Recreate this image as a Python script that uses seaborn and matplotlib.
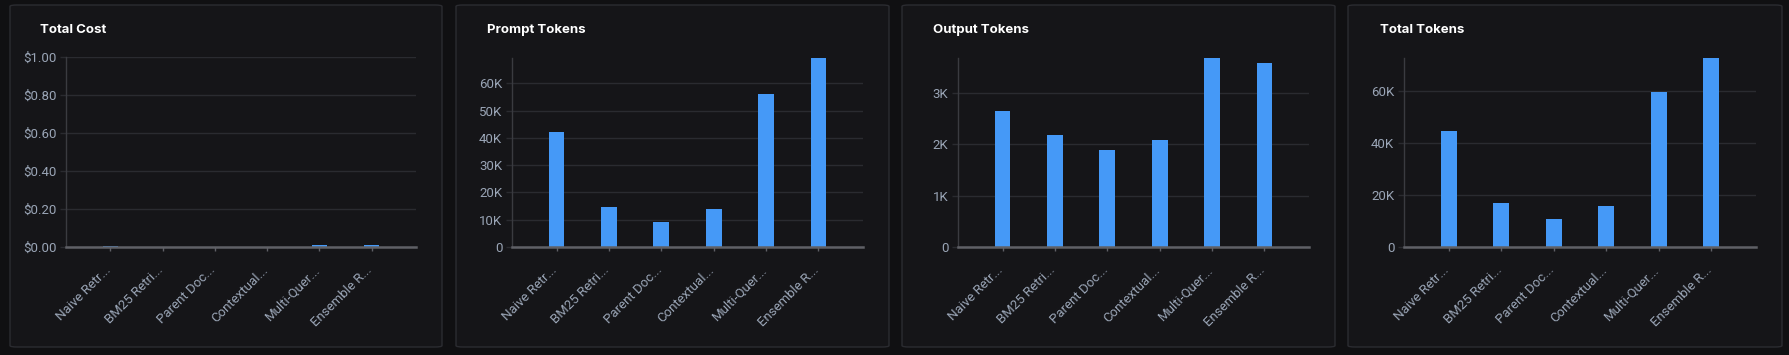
import matplotlib
matplotlib.use("Agg")
import matplotlib.pyplot as plt
from matplotlib.patches import FancyBboxPatch
from matplotlib.ticker import FuncFormatter, FixedLocator
import matplotlib.transforms as mtrans
import seaborn as sns
import pandas as pd

sns.set_theme(style="dark")
plt.rcParams['font.family'] = ['Roboto', 'DejaVu Sans']

categories = ["Naive Retr...", "BM25 Retri...", "Parent Doc...", "Contextual...",
              "Multi-Quer...", "Ensemble R..."]
total_cost = [0.007, 0.002, 0.001, 0.002, 0.009, 0.010]
prompt_tokens = [42000, 14700, 9100, 13800, 56200, 69300]
output_tokens = [2640, 2170, 1880, 2070, 3670, 3580]
total_tokens = [44640, 16870, 10980, 15870, 59870, 72880]

titles = ["Total Cost", "Prompt Tokens", "Output Tokens", "Total Tokens"]
series = [total_cost, prompt_tokens, output_tokens, total_tokens]
yticks = [[0, 0.2, 0.4, 0.6, 0.8, 1.0],
          [0, 10000, 20000, 30000, 40000, 50000, 60000],
          [0, 1000, 2000, 3000],
          [0, 20000, 40000, 60000]]

W, H = 1790, 355
FIG_BG = "#101012"
PANEL_BG = "#151518"
BORDER = "#2b2c31"
BAR = "#4599f7"
GRID = "#2a2b30"
AXIS = "#5f6066"
TICK_TXT = "#9aa5b6"

fig = plt.figure(figsize=(W / 100, H / 100), dpi=100, facecolor=FIG_BG)

panels = [(10, 442), (456, 889), (902, 1335), (1348, 1782)]
axes_x = [(66, 416), (512, 863), (958, 1309), (1404, 1756)]
title_x = [40, 487, 933, 1380]
top_y = [57, 58, 58, 58]
bot_y = 247


def kfmt(v, pos):
    if v == 0:
        return "0"
    return f"{v / 1000:g}K"


def dfmt(v, pos):
    return f"${v:.2f}"


shift = mtrans.ScaledTranslation(-6 / 100, -4 / 100, fig.dpi_scale_trans)

for i in range(4):
    px0, px1 = panels[i]
    box = FancyBboxPatch((px0 / W, 1 - 347 / H), (px1 - px0) / W, (347 - 5) / H,
                         boxstyle="round,pad=0,rounding_size=0.004",
                         transform=fig.transFigure, facecolor=PANEL_BG,
                         edgecolor=BORDER, linewidth=1.0, zorder=-5)
    fig.patches.append(box)
    fig.text(title_x[i] / W, 1 - 30 / H, titles[i], color="#ffffff",
             fontsize=9.5, fontweight="bold", ha="left", va="center",
             family=["Inter", "DejaVu Sans"])

    ax0, ax1 = axes_x[i]
    ax = fig.add_axes([ax0 / W, 1 - bot_y / H, (ax1 - ax0) / W, (bot_y - top_y[i]) / H])
    ax.set_zorder(2)
    ax.set_facecolor("none")
    df = pd.DataFrame({"cat": categories, "val": series[i]})
    sns.barplot(data=df, x="cat", y="val", ax=ax, color=BAR, width=0.3,
                saturation=1, zorder=3, edgecolor="none")
    ax.set_xlim(-0.85, 5.85)
    if i == 0:
        ax.set_ylim(0, 1.0)
        ax.yaxis.set_major_formatter(FuncFormatter(dfmt))
    else:
        ax.set_ylim(0, max(series[i]))
        ax.yaxis.set_major_formatter(FuncFormatter(kfmt))
    ax.yaxis.set_major_locator(FixedLocator(yticks[i]))
    ax.set_xlabel("")
    ax.set_ylabel("")
    ax.grid(axis="y", color=GRID, linewidth=1.0, zorder=0)
    ax.grid(axis="x", visible=False)
    for s in ["top", "right"]:
        ax.spines[s].set_visible(False)
    ax.spines["left"].set_color("#3a3b40")
    ax.spines["left"].set_linewidth(1.0)
    ax.spines["bottom"].set_color(AXIS)
    ax.spines["bottom"].set_linewidth(1.8)
    ax.spines["bottom"].set_zorder(4)
    ax.tick_params(axis="y", colors=GRID, labelcolor=TICK_TXT, labelsize=9.5,
                   length=4, width=1, pad=3, left=True)
    ax.tick_params(axis="x", colors=AXIS, labelcolor=TICK_TXT, labelsize=9.5,
                   length=3, width=1, pad=6, bottom=True)
    ax.set_xticks(range(len(categories)))
    ax.set_xticklabels(categories, rotation=45, ha="right", rotation_mode="anchor")
    for lbl in ax.get_xticklabels():
        lbl.set_transform(lbl.get_transform() + shift)

fig.savefig("out.png", dpi=100, facecolor=FIG_BG)
